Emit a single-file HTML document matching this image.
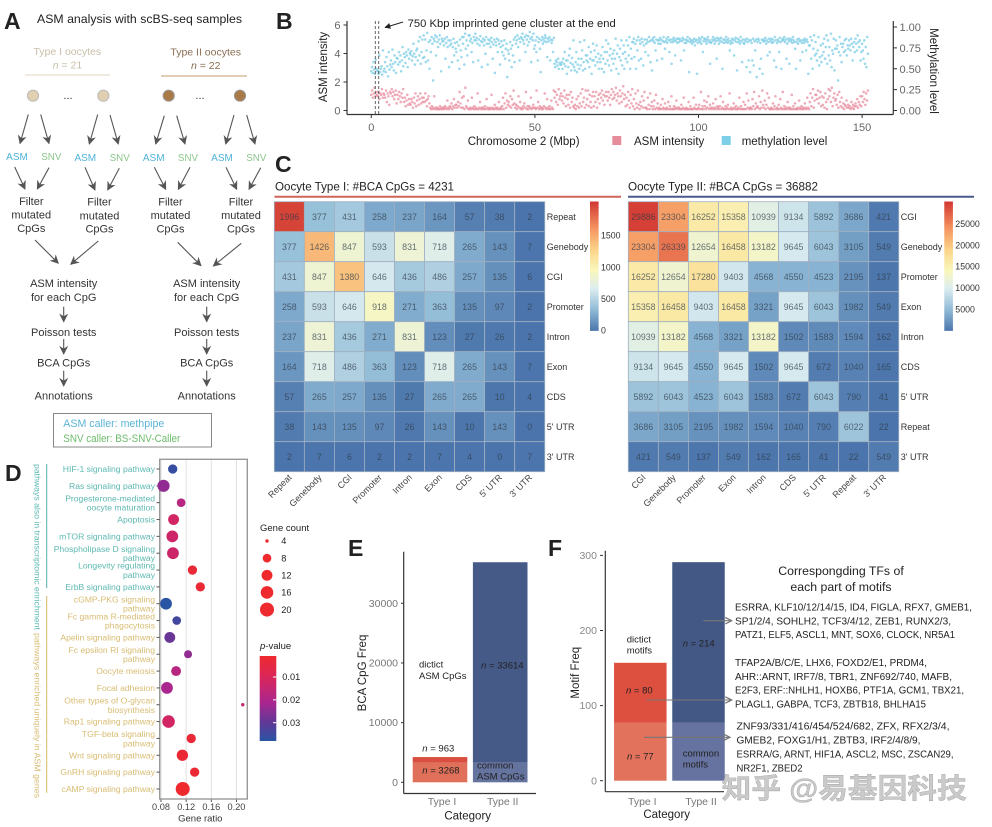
<!DOCTYPE html>
<html lang="en">
<head>
<meta charset="utf-8">
<title>ASM analysis figure</title>
<style>
html,body{margin:0;padding:0;background:#fff;width:992px;height:827px;overflow:hidden}
svg{display:block;filter:blur(0.3px)}
text{font-family:"Liberation Sans","Noto Sans CJK SC",sans-serif}
.letter{font-size:23px;font-weight:700;fill:#222}
.flow{font-size:11px;fill:#333;text-anchor:middle}
.blue{font-size:10px;fill:#4fb3d9;text-anchor:middle}
.green{font-size:9.8px;fill:#8cc68c;text-anchor:middle}
.tick{font-size:11px;fill:#666}
.title{font-size:11.5px;fill:#222}
.small{font-size:9.5px;fill:#222}
.tf{font-size:10px;fill:#222}
</style>
</head>
<body>
<svg id="figure" width="992" height="827" viewBox="0 0 992 827" xmlns="http://www.w3.org/2000/svg">
<defs>
<marker id="ah" viewBox="0 0 10 10" refX="9" refY="5" markerUnits="userSpaceOnUse" markerWidth="9" markerHeight="9" orient="auto"><path d="M0,0 L10,5 L0,10 L3,5z" fill="#555"/></marker>
<marker id="ahg" viewBox="0 0 10 10" refX="9" refY="5" markerUnits="userSpaceOnUse" markerWidth="8" markerHeight="8" orient="auto"><path d="M1,1 L9,5 L1,9" fill="none" stroke="#777" stroke-width="1.6"/></marker>
<marker id="ahb" viewBox="0 0 10 10" refX="9" refY="5" markerUnits="userSpaceOnUse" markerWidth="6" markerHeight="6" orient="auto"><path d="M0,0 L10,5 L0,10z" fill="#222"/></marker>
<linearGradient id="pgrad" x1="0" y1="0" x2="0" y2="1"><stop offset="0" stop-color="#ee2a2e"/><stop offset="0.25" stop-color="#d9265a"/><stop offset="0.55" stop-color="#a9268f"/><stop offset="0.8" stop-color="#5b3b98"/><stop offset="1" stop-color="#2a54a4"/></linearGradient>
</defs>

<g>
<text class="letter" x="4" y="29">A</text>
<text x="37" y="23" font-size="12.3" fill="#222">ASM analysis with scBS-seq samples</text>
<text x="67.3" y="55" font-size="10.5" fill="#c8bfa8" text-anchor="middle">Type I oocytes</text>
<text x="67.5" y="68.5" font-size="10.5" fill="#c8bfa8" text-anchor="middle"><tspan font-style="italic">n</tspan> = 21</text>
<line x1="25" y1="75" x2="110" y2="75" stroke="#e0d6c3"/>
<text x="205.7" y="55.5" font-size="10.5" fill="#8a6e52" text-anchor="middle">Type II oocytes</text>
<text x="205.7" y="69" font-size="10.5" fill="#8a6e52" text-anchor="middle"><tspan font-style="italic">n</tspan> = 22</text>
<line x1="161" y1="76" x2="247" y2="76" stroke="#c49a72"/>
<circle cx="33" cy="95.7" r="5.6" fill="#e0cfb0" stroke="#bbb"/>
<circle cx="103.3" cy="95.7" r="5.6" fill="#e0cfb0" stroke="#bbb"/>
<circle cx="168.7" cy="95.7" r="5.6" fill="#a97a48" stroke="#999"/>
<circle cx="240" cy="95.7" r="5.6" fill="#a97a48" stroke="#999"/>
<text x="68" y="99" font-size="11" fill="#333" text-anchor="middle">...</text>
<text x="200" y="99" font-size="11" fill="#333" text-anchor="middle">...</text>

<g stroke="#555" stroke-width="1.1">
<line x1="28.3" y1="114.5" x2="20" y2="143.5" marker-end="url(#ah)"/>
<line x1="40.7" y1="114.5" x2="49" y2="143.5" marker-end="url(#ah)"/>
<line x1="97.7" y1="114.5" x2="89.3" y2="144" marker-end="url(#ah)"/>
<line x1="110" y1="115" x2="118.3" y2="144" marker-end="url(#ah)"/>
<line x1="164.3" y1="115.7" x2="155.7" y2="144" marker-end="url(#ah)"/>
<line x1="176.7" y1="115.7" x2="185" y2="144" marker-end="url(#ah)"/>
<line x1="234" y1="115" x2="225.7" y2="144" marker-end="url(#ah)"/>
<line x1="246.7" y1="115" x2="255" y2="144" marker-end="url(#ah)"/>
<line x1="14.7" y1="167" x2="25" y2="189" marker-end="url(#ah)"/>
<line x1="49" y1="167.7" x2="37.3" y2="189" marker-end="url(#ah)"/>
<line x1="85" y1="167.3" x2="95" y2="190" marker-end="url(#ah)"/>
<line x1="119.3" y1="168.3" x2="107.7" y2="190" marker-end="url(#ah)"/>
<line x1="154.3" y1="167.3" x2="165.7" y2="189.3" marker-end="url(#ah)"/>
<line x1="190" y1="167.3" x2="178.3" y2="189.3" marker-end="url(#ah)"/>
<line x1="226" y1="167.3" x2="236.7" y2="189.3" marker-end="url(#ah)"/>
<line x1="260.7" y1="167.7" x2="249" y2="189.3" marker-end="url(#ah)"/>
<line x1="35" y1="240" x2="58.3" y2="263.3" marker-end="url(#ah)"/>
<line x1="98.3" y1="241" x2="70.7" y2="264.3" marker-end="url(#ah)"/>
<line x1="177.7" y1="242.3" x2="201" y2="265.7" marker-end="url(#ah)"/>
<line x1="241.3" y1="243.3" x2="213.3" y2="266" marker-end="url(#ah)"/>
<line x1="63.7" y1="306.7" x2="63.7" y2="321.7" marker-end="url(#ah)"/>
<line x1="63.7" y1="339" x2="63.7" y2="354" marker-end="url(#ah)"/>
<line x1="63.7" y1="370.7" x2="63.7" y2="386" marker-end="url(#ah)"/>
<line x1="206.7" y1="306.7" x2="206.7" y2="321.7" marker-end="url(#ah)"/>
<line x1="206.7" y1="339" x2="206.7" y2="354" marker-end="url(#ah)"/>
<line x1="206.7" y1="370.7" x2="206.7" y2="386" marker-end="url(#ah)"/>
</g>

<text class="blue" x="17" y="160">ASM</text>
<text class="green" x="51.3" y="160">SNV</text>
<text class="blue" x="85.3" y="161">ASM</text>
<text class="green" x="119.7" y="161">SNV</text>
<text class="blue" x="153.7" y="161">ASM</text>
<text class="green" x="188" y="161">SNV</text>
<text class="blue" x="222" y="161">ASM</text>
<text class="green" x="256.3" y="161">SNV</text>

<text class="flow" x="31.3"><tspan x="31.3" y="205">Filter</tspan><tspan x="31.3" y="218.5">mutated</tspan><tspan x="31.3" y="232">CpGs</tspan></text>
<text class="flow" x="99.5"><tspan x="99.5" y="205.5">Filter</tspan><tspan x="99.5" y="219.5">mutated</tspan><tspan x="99.5" y="232.5">CpGs</tspan></text>
<text class="flow" x="170.5"><tspan x="170.5" y="205.5">Filter</tspan><tspan x="170.5" y="219">mutated</tspan><tspan x="170.5" y="232.5">CpGs</tspan></text>
<text class="flow" x="241"><tspan x="241" y="205.5">Filter</tspan><tspan x="241" y="219">mutated</tspan><tspan x="241" y="232.5">CpGs</tspan></text>

<text class="flow"><tspan x="63.7" y="287">ASM intensity</tspan><tspan x="63.7" y="301">for each CpG</tspan></text>
<text class="flow" x="63.7" y="336">Poisson tests</text>
<text class="flow" x="63.7" y="366.5">BCA CpGs</text>
<text class="flow" x="63.7" y="399.5">Annotations</text>
<text class="flow"><tspan x="206.7" y="287">ASM intensity</tspan><tspan x="206.7" y="301">for each CpG</tspan></text>
<text class="flow" x="206.7" y="336">Poisson tests</text>
<text class="flow" x="206.7" y="366.5">BCA CpGs</text>
<text class="flow" x="206.7" y="399.5">Annotations</text>

<rect x="53.5" y="413.5" width="158" height="33.5" fill="#fff" stroke="#888"/>
<text x="63.3" y="427" font-size="10.6" fill="#5ab4d6" textLength="101" lengthAdjust="spacingAndGlyphs">ASM caller: methpipe</text>
<text x="63.3" y="442" font-size="10.6" fill="#6dbb6d" textLength="117" lengthAdjust="spacingAndGlyphs">SNV caller: BS-SNV-Caller</text>
</g>

<g id="panelB">
<text class="letter" x="276" y="29">B</text>
<g id="scatterMarks"></g>
<line x1="375.3" y1="21" x2="375.3" y2="114" stroke="#555" stroke-dasharray="3,2" stroke-width="0.9"/>
<line x1="378.7" y1="21" x2="378.7" y2="114" stroke="#555" stroke-dasharray="3,2" stroke-width="0.9"/>
<line x1="347" y1="21" x2="347" y2="114.5" stroke="#333" stroke-width="1.2"/>
<line x1="893.3" y1="21" x2="893.3" y2="114.5" stroke="#333" stroke-width="1.2"/>
<line x1="347" y1="114.5" x2="893.3" y2="114.5" stroke="#333" stroke-width="1.2"/>
<g id="scatterAxes"></g>
<text class="title" transform="translate(327,67) rotate(-90)" text-anchor="middle">ASM intensity</text>
<text class="title" transform="translate(930,71) rotate(90)" text-anchor="middle" font-size="11">Methylation level</text>
<text class="title" x="467.7" y="145">Chromosome 2 (Mbp)</text>
<rect x="612.3" y="136" width="9" height="9" fill="#e68c9b"/>
<text class="title" x="634" y="145">ASM intensity</text>
<rect x="721.7" y="136" width="9" height="9" fill="#7ccfe6"/>
<text class="title" x="741.7" y="145">methylation level</text>
<line x1="403" y1="22" x2="385" y2="27.5" stroke="#222" marker-end="url(#ahb)"/>
<text x="407.7" y="27" font-size="11" fill="#222" textLength="208" lengthAdjust="spacingAndGlyphs">750 Kbp imprinted gene cluster at the end</text>
</g>

<g>
<text class="letter" x="275" y="172">C</text>
<text class="title" x="275" y="190.5" textLength="179" lengthAdjust="spacingAndGlyphs">Oocyte Type I: #BCA CpGs = 4231</text>
<line x1="274.5" y1="196.7" x2="621" y2="196.7" stroke="#d0645a" stroke-width="2"/>
<text class="title" x="628" y="190.5" textLength="190" lengthAdjust="spacingAndGlyphs">Oocyte Type II: #BCA CpGs = 36882</text>
<line x1="628" y1="196.7" x2="974" y2="196.7" stroke="#4a5a8c" stroke-width="2"/>
<g id="heat1"></g>
<g id="heat2"></g>
</g>

<g>
<text class="letter" x="5" y="481">D</text>
<text transform="translate(34.5,464) rotate(90)" font-size="8.6" fill="#5cb8b0" textLength="166" lengthAdjust="spacingAndGlyphs">pathways also in transcriptomic enrichment</text>
<text transform="translate(34.5,633) rotate(90)" font-size="8.6" fill="#d8bc72" textLength="165" lengthAdjust="spacingAndGlyphs">pathways enriched uniquely in ASM genes</text>
<line x1="46.7" y1="464" x2="46.7" y2="588" stroke="#4fb0a8"/>
<line x1="46.7" y1="596" x2="46.7" y2="792.7" stroke="#d8b860"/>
<g id="dotplot"></g>
<text x="200.3" y="821.7" font-size="9.5" fill="#333" text-anchor="middle">Gene ratio</text>
<text x="260" y="531" font-size="9.5" fill="#222">Gene count</text>
<g id="sizeLegend"></g>
<text x="260" y="649" font-size="9.5" fill="#222"><tspan font-style="italic">p</tspan>-value</text>
<rect x="259.7" y="656" width="16.6" height="85" fill="url(#pgrad)"/>
<g id="pLegend"></g>
</g>

<g>
<text class="letter" x="348" y="556">E</text>
<g id="barsE"></g>
<line x1="403.7" y1="551.7" x2="403.7" y2="793.5" stroke="#333" stroke-width="1.2"/>
<line x1="403.7" y1="793.5" x2="536" y2="793.5" stroke="#333" stroke-width="1.2"/>
<text class="title" transform="translate(366,673) rotate(-90)" text-anchor="middle">BCA CpG Freq</text>
<text class="title" x="467.7" y="819.3" text-anchor="middle">Category</text>
<text class="small"><tspan x="419" y="667.3">dictict</tspan><tspan x="419" y="678.8">ASM CpGs</tspan></text>
<text class="small" x="422.3" y="751.7"><tspan font-style="italic">n</tspan> = 963</text>
<text class="small" x="422.3" y="773.3"><tspan font-style="italic">n</tspan> = 3268</text>
<text class="small" x="481" y="668.3"><tspan font-style="italic">n</tspan> = 33614</text>
<text class="small"><tspan x="477" y="768.3">common</tspan><tspan x="477" y="779.5">ASM CpGs</tspan></text>
</g>

<g>
<text class="letter" x="548" y="556">F</text>
<g id="barsF"></g>
<line x1="605.3" y1="550.7" x2="605.3" y2="791.7" stroke="#333" stroke-width="1.2"/>
<line x1="605.3" y1="791.7" x2="724" y2="791.7" stroke="#333" stroke-width="1.2"/>
<text class="title" transform="translate(579,672.7) rotate(-90)" text-anchor="middle">Motif Freq</text>
<text class="title" x="666.7" y="818" text-anchor="middle">Category</text>
<text class="small"><tspan x="626.7" y="642.7">dictict</tspan><tspan x="626.7" y="653.5">motifs</tspan></text>
<text class="small" x="626" y="693.3" font-size="10"><tspan font-style="italic">n</tspan> = 80</text>
<text class="small" x="627" y="759.3" font-size="10"><tspan font-style="italic">n</tspan> = 77</text>
<text class="small" x="682.7" y="646.7" font-size="10"><tspan font-style="italic">n</tspan> = 214</text>
<text class="small"><tspan x="682.7" y="756.7">common</tspan><tspan x="682.7" y="767.7">motifs</tspan></text>
<line x1="703.3" y1="620.7" x2="731.7" y2="620.7" stroke="#777" stroke-width="1.1" marker-end="url(#ahg)"/>
<line x1="646.7" y1="700" x2="731.7" y2="700" stroke="#777" stroke-width="1.1" marker-end="url(#ahg)"/>
<line x1="644" y1="737.3" x2="730" y2="737.3" stroke="#777" stroke-width="1.1" marker-end="url(#ahg)"/>
<text font-size="12.3" fill="#222" text-anchor="middle"><tspan x="841" y="575">Correspongding TFs of</tspan><tspan x="841" y="591">each part of motifs</tspan></text>
<text class="tf" x="735" y="610.7" textLength="237" lengthAdjust="spacingAndGlyphs">ESRRA, KLF10/12/14/15, ID4, FIGLA, RFX7, GMEB1,</text>
<text class="tf" x="735" y="624.3" textLength="216" lengthAdjust="spacingAndGlyphs">SP1/2/4, SOHLH2, TCF3/4/12, ZEB1, RUNX2/3,</text>
<text class="tf" x="735" y="638" textLength="220" lengthAdjust="spacingAndGlyphs">PATZ1, ELF5, ASCL1, MNT, SOX6, CLOCK, NR5A1</text>
<text class="tf" x="735" y="666" textLength="192" lengthAdjust="spacingAndGlyphs">TFAP2A/B/C/E, LHX6, FOXD2/E1, PRDM4,</text>
<text class="tf" x="735" y="680" textLength="217" lengthAdjust="spacingAndGlyphs">AHR::ARNT, IRF7/8, TBR1, ZNF692/740, MAFB,</text>
<text class="tf" x="735" y="693.7" textLength="229" lengthAdjust="spacingAndGlyphs">E2F3, ERF::NHLH1, HOXB6, PTF1A, GCM1, TBX21,</text>
<text class="tf" x="735" y="707.7" textLength="191" lengthAdjust="spacingAndGlyphs">PLAGL1, GABPA, TCF3, ZBTB18, BHLHA15</text>
<text class="tf" x="736.5" y="729.7" textLength="213" lengthAdjust="spacingAndGlyphs">ZNF93/331/416/454/524/682, ZFX, RFX2/3/4,</text>
<text class="tf" x="736.5" y="743.7" textLength="184" lengthAdjust="spacingAndGlyphs">GMEB2, FOXG1/H1, ZBTB3, IRF2/4/8/9,</text>
<text class="tf" x="736.5" y="757.7" textLength="217" lengthAdjust="spacingAndGlyphs">ESRRA/G, ARNT, HIF1A, ASCL2, MSC, ZSCAN29,</text>
<text class="tf" x="736.5" y="771.7" textLength="66" lengthAdjust="spacingAndGlyphs">NR2F1, ZBED2</text>
</g>

<text x="721.7" y="798" font-size="28" font-weight="700" fill="#bdbdbd" fill-opacity="0.8" stroke="#8f8f8f" stroke-width="0.3" textLength="245" lengthAdjust="spacingAndGlyphs" style='font-family:"Liberation Sans","Noto Sans CJK SC",sans-serif'>知乎 @易基因科技</text>
</svg>

<script>
/* ---------- Panel B data ---------- */
const chrPositions = [1,3,5,7,9,11,13,15,17,19,21,23,25,27,29,31,33,35,37,39,41,43,45,47,49,51,53,55,57,59,61,63,65,67,69,71,73,75,77,79,81,83,85,87,89,91,93,95,97,99,101,103,105,107,109,111,113,115,117,119,121,123,125,127,129,131,133,135,137,139,141,143,145,147,149,151];
const methylationPct = [
[47,52,45,58,49,44,61,50,47],[48,44,66,46,50,53,43,72,47],[50,58,46,64,53,41,70,49,55],[60,52,73,56,48,66,58,45,63],
[62,55,70,58,66,47,60,76,53],[68,64,57,70,66,52,73,62,69],[67,71,60,65,80,68,55,64,72],[74,60,83,66,88,56,70,85,63],
[90,64,85,58,72,93,60,82,50],[84,70,88,80,36,86,83,90,66],[88,82,76,85,90,80,47,86,83],[83,78,86,62,81,88,76,84,52],
[78,84,80,58,76,86,66,81,74],[70,82,60,78,50,85,72,64,88],[80,88,55,92,74,84,66,78,90],[90,83,86,70,81,58,88,84,92],
[84,87,80,60,85,78,89,83,52],[82,86,78,84,68,88,80,55,85],[80,84,76,87,82,62,79,85,45],[82,78,86,70,84,80,55,76,83],
[70,78,66,84,62,74,80,40,72],[68,60,82,74,52,78,66,85,58],[88,80,84,90,76,86,60,82,88],[86,92,84,80,88,70,90,85,78],
[89,82,94,86,58,88,84,92,74],[78,84,70,88,60,82,86,74,46],[84,88,80,86,83,90,87,82,64],[86,83,88,60,85,81,84,70,87],
[56,52,60,58,54,62,50,57,55],[55,58,50,62,56,70,53,60,44],[60,52,66,74,57,48,63,55,84],[52,48,58,70,46,55,62,50,82],
[54,62,72,48,58,84,50,66,60],[66,58,76,52,62,70,44,60,80],[60,72,54,64,78,58,68,50,62],[58,66,50,76,62,46,70,56,84],
[70,60,80,54,66,74,48,62,68],[56,72,62,86,50,68,78,44,64],[74,60,84,54,68,78,50,70,62],[84,58,78,66,88,50,74,62,82],
[82,86,64,80,50,84,72,88,60],[84,80,62,86,82,54,78,85,70],[80,85,82,66,88,83,58,84,48],[86,83,88,81,72,85,60,84,80],
[84,87,80,85,62,83,88,82,74],[83,86,81,88,84,70,85,82,56],[85,82,87,84,66,83,86,81,86],[82,86,84,60,83,87,85,72,81],
[85,81,84,88,83,46,86,82,84],[80,84,82,86,78,83,85,44,81],[84,87,82,85,80,88,70,83,86],[86,83,80,85,88,82,84,56,81],
[82,85,88,84,80,86,83,62,87],[84,80,86,83,87,82,50,85,81],[85,82,88,84,81,86,83,72,80],[83,86,81,85,66,84,87,82,48],
[86,82,84,80,88,83,58,85,81],[80,85,83,52,86,82,60,84,46],[84,81,60,86,54,83,72,85,40],[82,86,84,50,81,62,85,44,83],
[85,83,87,80,84,66,82,86,70],[83,86,81,85,82,60,88,84,52],[81,85,83,70,87,82,50,84,86],[84,88,82,85,62,80,86,83,56],
[86,83,85,81,88,84,82,74,50],[82,85,80,86,83,60,84,81,70],[84,81,86,83,72,85,82,44,78],[78,88,62,84,50,74,90,66,82],
[68,60,72,88,54,64,78,58,66],[80,70,86,62,76,90,56,84,66],[76,60,92,52,72,68,86,48,74],[84,74,78,36,70,88,66,80,58],
[76,80,70,84,72,86,66,78,74],[84,78,72,86,80,60,76,82,70],[86,80,72,90,82,76,84,60,70],[80,72,62,84,56,76,52,88,68]
];
const asmTenths = [
[11,14,9,12,16,10,13,11],[10,13,8,12,11,15,9,12],[11,9,14,6,12,10,4,13],[12,15,10,13,8,11,14,5],
[11,8,13,10,6,12,9,15],[6,9,3,7,11,4,8,5],[4,8,6,2,9,5,12,3],[7,10,4,8,12,5,9,6],
[9,6,12,7,3,8,10,5],[2,1,3,1,2,10,1,2],[1,2,1,1,3,1,2,1],[2,1,3,2,1,7,2,1],
[3,2,5,1,3,8,2,4],[4,2,6,3,13,5,2,9],[2,10,1,16,3,2,7,1],[1,2,1,9,2,1,3,1],
[2,1,12,1,2,6,1,2],[1,2,1,3,1,8,2,1],[1,2,1,11,2,1,1,4],[2,1,2,1,6,1,2,1],
[3,9,1,5,12,2,7,4],[6,3,10,2,8,4,14,5],[2,4,1,3,10,2,6,1],[2,1,3,5,2,13,1,3],
[1,3,2,9,1,2,4,2],[2,1,14,2,6,1,3,2],[1,2,1,3,12,2,1,8],[2,1,3,1,7,2,1,14],
[9,13,6,11,4,15,8,10],[12,7,10,5,14,9,3,11],[8,4,11,2,13,6,9,3],[2,4,1,8,3,10,2,5],
[12,3,15,6,9,2,14,4],[8,14,3,11,6,2,10,13],[3,10,6,13,2,8,11,5],[12,9,14,7,11,4,10,13],
[10,7,13,9,4,11,15,8],[13,9,11,16,7,12,10,5],[14,10,6,12,17,8,11,3],[9,4,13,7,2,11,5,15],
[3,8,1,12,5,2,14,4],[1,6,3,10,2,7,13,2],[2,1,9,4,1,12,3,6],[1,3,7,1,11,2,5,1],
[2,1,4,1,8,2,1,5],[1,2,1,6,1,3,1,10],[1,1,3,1,2,7,1,2],[2,1,1,4,1,2,9,1],
[1,2,1,1,6,1,3,1],[1,1,9,2,1,4,1,1],[2,4,1,13,1,3,1,7],[3,1,6,2,10,1,4,2],
[1,2,5,1,2,8,1,3],[2,1,3,10,1,2,6,1],[1,3,1,2,4,1,12,1],[2,1,1,5,2,1,3,1],
[1,2,9,1,3,1,1,6],[1,4,1,12,2,7,1,2],[2,1,8,3,13,1,5,2],[3,2,10,1,6,2,14,4],
[2,7,1,4,12,2,9,1],[1,2,1,5,1,3,10,1],[2,1,4,1,8,2,1,13],[1,3,1,2,1,6,2,1],
[2,1,11,1,3,1,5,1],[1,2,1,7,2,1,3,1],[2,1,5,2,1,9,2,1],[6,12,3,9,15,2,7,11],
[11,8,14,5,9,13,3,10],[4,9,2,12,6,1,8,15],[10,14,6,16,3,9,12,7],[8,4,11,2,13,6,3,9],
[2,5,1,4,3,7,2,4],[2,3,1,6,2,4,1,3],[5,3,8,2,6,4,10,3],[10,6,13,8,4,12,7,14]
];
const chrTicks = [0,50,100,150];
const asmTicks = [0,2,4,6];
const methTicks = [0,0.25,0.5,0.75,1];

/* ---------- Panel C data ---------- */
const heat1Rows = ['Repeat','Genebody','CGI','Promoter','Intron','Exon','CDS',"5' UTR","3' UTR"];
const heat1Values = [
[1996,377,431,258,237,164,57,38,2],
[377,1426,847,593,831,718,265,143,7],
[431,847,1380,646,436,486,257,135,6],
[258,593,646,918,271,363,135,97,2],
[237,831,436,271,831,123,27,26,2],
[164,718,486,363,123,718,265,143,7],
[57,265,257,135,27,265,265,10,4],
[38,143,135,97,26,143,10,143,0],
[2,7,6,2,2,7,4,0,7]
];
const heat1Max = 2035;
const heat1Ticks = [0,500,1000,1500];
const heat2Rows = ['CGI','Genebody','Promoter','Exon','Intron','CDS',"5' UTR",'Repeat',"3' UTR"];
const heat2Values = [
[29886,23304,16252,15358,10939,9134,5892,3686,421],
[23304,26339,12654,16458,13182,9645,6043,3105,549],
[16252,12654,17280,9403,4568,4550,4523,2195,137],
[15358,16458,9403,16458,3321,9645,6043,1982,549],
[10939,13182,4568,3321,13182,1502,1583,1594,162],
[9134,9645,4550,9645,1502,9645,672,1040,165],
[5892,6043,4523,6043,1583,672,6043,790,41],
[3686,3105,2195,1982,1594,1040,790,6022,22],
[421,549,137,549,162,165,41,22,549]
];
const heat2Max = 30200;
const heat2Ticks = [5000,10000,15000,20000,25000];

/* ---------- Panel D data ---------- */
const pathwayLabels = ['HIF-1 signaling pathway','Ras signaling pathway','Progesterone-mediated|oocyte maturation','Apoptosis','mTOR signaling pathway','Phospholipase D signaling|pathway','Longevity regulating|pathway','ErbB signaling pathway','cGMP-PKG signaling|pathway','Fc gamma R-mediated|phagocytosis','Apelin signaling pathway','Fc epsilon RI signaling|pathway','Oocyte meiosis','Focal adhesion','Other types of O-glycan|biosynthesis','Rap1 signaling pathway','TGF-beta signaling|pathway','Wnt signaling pathway','GnRH signaling pathway','cAMP signaling pathway'];
const geneRatios = [0.0986,0.084,0.112,0.100,0.098,0.099,0.130,0.1425,0.088,0.105,0.094,0.123,0.104,0.0895,0.21,0.092,0.128,0.114,0.1335,0.1145];
const geneCounts = [9,15,8,12,14,14,9,9,14,8,12,7,10,14,4,16,9,13,9,20];
const pValues = [0.036,0.024,0.018,0.012,0.013,0.013,0.003,0.002,0.038,0.034,0.029,0.024,0.018,0.021,0.015,0.012,0.003,0.002,0.002,0.001];
const sharedPathwayCount = 8;
const ratioTicks = [0.08,0.12,0.16,0.20];
const ratioTickLabels = ['0.08','0.12','0.16','0.20'];
const sizeLegendCounts = [4,8,12,16,20];
const pLegendTicks = [0.01,0.02,0.03];

/* ---------- Panels E and F data ---------- */
const barCategories = ['Type I','Type II'];
const bcaCommon = [3268,3268];
const bcaDistinct = [963,33614];
const bcaTicks = [0,10000,20000,30000];
const motifCommon = [77,77];
const motifDistinct = [80,214];
const motifTicks = [0,100,200,300];

/* ---------- helpers ---------- */
const NS = 'http://www.w3.org/2000/svg';
function make(parent, tag, attrs, text) {
  const el = document.createElementNS(NS, tag);
  for (const k in attrs) el.setAttribute(k, attrs[k]);
  if (text !== undefined) el.textContent = text;
  parent.appendChild(el);
  return el;
}
function mix(a, b, t) {
  const pa = [1,3,5].map(i => parseInt(a.substr(i,2),16));
  const pb = [1,3,5].map(i => parseInt(b.substr(i,2),16));
  return 'rgb(' + pa.map((v,i) => Math.round(v + (pb[i]-v)*t)).join(',') + ')';
}
function ramp(stops, t) {
  t = Math.max(0, Math.min(1, t));
  for (let i = 1; i < stops.length; i++) {
    if (t <= stops[i][0]) return mix(stops[i-1][1], stops[i][1], (t - stops[i-1][0]) / (stops[i][0] - stops[i-1][0]));
  }
  return stops[stops.length-1][1];
}

/* ---------- Panel B drawing ---------- */
const xChr = v => 371.3 + v * 3.272;
const yAsm = v => 110.5 - v * 14.25;
const yMeth = v => 110.5 - v * 83.5;
const scatterMarks = document.getElementById('scatterMarks');
const scatterAxes = document.getElementById('scatterAxes');
chrPositions.forEach((pos, k) => {
  asmTenths[k].forEach((val, j) => {
    const dot = make(scatterMarks, 'circle', {cx: xChr(pos - 1 + j * 2 / asmTenths[k].length), cy: yAsm(val / 10), r: 1.3, fill: '#e88fa0', 'fill-opacity': 0.75});
    
    
  });
  methylationPct[k].forEach((val, j) => {
    const dot = make(scatterMarks, 'circle', {cx: xChr(pos - 1 + j * 2 / methylationPct[k].length), cy: yMeth(val / 100), r: 1.3, fill: '#7fcde6', 'fill-opacity': 0.75});
    
    
  });
});
chrTicks.forEach(t => {
  const tk = make(scatterAxes, 'line', {x1: xChr(t), y1: 114.5, x2: xChr(t), y2: 118, stroke: '#333'});
  
  
  const lb = make(scatterAxes, 'text', {x: xChr(t), y: 131, class: 'tick', 'text-anchor': 'middle'}, String(t));
  
  
});
asmTicks.forEach(t => {
  const tk = make(scatterAxes, 'line', {x1: 343.5, y1: yAsm(t), x2: 347, y2: yAsm(t), stroke: '#333'});
  
  
  const lb = make(scatterAxes, 'text', {x: 340.5, y: yAsm(t) + 4, class: 'tick', 'text-anchor': 'end'}, String(t));
  
  
});
methTicks.forEach(t => {
  const tk = make(scatterAxes, 'line', {x1: 893.3, y1: yMeth(t), x2: 897, y2: yMeth(t), stroke: '#333'});
  
  
  const lb = make(scatterAxes, 'text', {x: 899.5, y: yMeth(t) + 4, class: 'tick'}, t.toFixed(2));
  
  
});

/* ---------- Panel C drawing ---------- */
const heatStops = [[0,'#4a74ab'],[0.167,'#8fbad6'],[0.333,'#dcedf0'],[0.47,'#faf7bd'],[0.62,'#fbd88c'],[0.8,'#f59460'],[1,'#d33a33']];
function drawHeatmap(root, rows, cols, values, maxVal, ticks, left, barX) {
  const top = 201.7, cw = 30.05, ch = 30;
  const xCell = c => left + c * cw;
  const yCell = r => top + r * ch;
  values.forEach((row, r) => {
    row.forEach((val, c) => {
      const cell = make(root, 'rect', {x: xCell(c), y: yCell(r), width: cw, height: ch, fill: ramp(heatStops, val / maxVal), stroke: '#9fb0c2', 'stroke-width': 0.8});
      
      
      const label = make(root, 'text', {x: xCell(c) + cw / 2, y: yCell(r) + ch / 2 + 3.2, 'font-size': 8.8, fill: '#2f3b4a', 'fill-opacity': 0.72, 'text-anchor': 'middle'}, String(val));
      
      
    });
  });
  rows.forEach((name, r) => {
    const lb = make(root, 'text', {x: left + 9 * cw + 2, y: yCell(r) + ch / 2 + 3.2, 'font-size': 9, fill: '#333'}, name);
    
    
  });
  cols.forEach((name, c) => {
    const cx = xCell(c) + cw / 2 + 3, cy = 478;
    const lb = make(root, 'text', {x: 0, y: 0, transform: 'translate(' + cx + ',' + cy + ') rotate(-45)', 'font-size': 9, fill: '#444', 'text-anchor': 'end'}, name);
    
    
  });
  const barTop = 201.5, barH = 129;
  const yBar = v => barTop + barH - (v / maxVal) * barH;
  for (let i = 0; i < 64; i++) {
    const seg = make(root, 'rect', {x: barX, y: barTop + i * barH / 64, width: 8.6, height: barH / 64 + 0.4, fill: ramp(heatStops, 1 - i / 64)});
    
    
  }
  ticks.forEach(t => {
    const lb = make(root, 'text', {x: barX + 11, y: yBar(t) + 3.2, 'font-size': 8.8, fill: '#333'}, String(t));
    
    
  });
}
drawHeatmap(document.getElementById('heat1'), heat1Rows, heat1Rows, heat1Values, heat1Max, heat1Ticks, 274.3, 590);
drawHeatmap(document.getElementById('heat2'), heat2Rows, heat2Rows, heat2Values, heat2Max, heat2Ticks, 628.3, 944.3);

/* ---------- Panel D drawing ---------- */
const dot = document.getElementById('dotplot');
const xRatio = v => 161 + (v - 0.08) * 629;
const yPath = i => 469 + i * 16.84;
const rCount = c => 1.7 + 5.3 * Math.sqrt((c - 4) / 16);
const pStops = [[0,'#ee2a2e'],[0.25,'#d9265a'],[0.55,'#a9268f'],[0.8,'#5b3b98'],[1,'#2a54a4']];
const pColor = p => ramp(pStops, (p - 0.0008) / 0.0372);
ratioTicks.forEach((t, i) => {
  const g = make(dot, 'line', {x1: xRatio(t), y1: 460, x2: xRatio(t), y2: 799, stroke: '#e2e2e2'});
  
  
  const tk = make(dot, 'line', {x1: xRatio(t), y1: 799, x2: xRatio(t), y2: 802, stroke: '#555'});
  
  
  const lb = make(dot, 'text', {x: xRatio(t), y: 810, 'font-size': 9.2, fill: '#444', 'text-anchor': 'middle'}, ratioTickLabels[i]);
  
  
});
const dotFrame = make(dot, 'rect', {x: 159.7, y: 459.3, width: 87.6, height: 339.7, fill: 'none', stroke: '#999', 'stroke-width': 1.4});


pathwayLabels.forEach((label, i) => {
  const y = yPath(i);
  const color = i < sharedPathwayCount ? '#5cb8b0' : '#d8bc72';
  const tk = make(dot, 'line', {x1: 156.5, y1: y, x2: 159.7, y2: y, stroke: '#555'});
  
  
  const parts = label.split('|');
  parts.forEach((part, p) => {
    const by = parts.length === 1 ? y + 3 : (p === 0 ? y - 1.3 : y + 8);
    const lb = make(dot, 'text', {x: 155, y: by, 'font-size': 8.6, fill: color, 'text-anchor': 'end'}, part);
    
    
  });
  const c = make(dot, 'circle', {cx: xRatio(geneRatios[i]), cy: y, r: rCount(geneCounts[i]), fill: pColor(pValues[i])});
  
  
});
const sizeLegend = document.getElementById('sizeLegend');
sizeLegendCounts.forEach((n, i) => {
  const y = 541 + i * 17.15;
  const c = make(sizeLegend, 'circle', {cx: 267, cy: y, r: rCount(n), fill: '#ee2a2e'});
  
  
  const lb = make(sizeLegend, 'text', {x: 281.3, y: y + 3.2, 'font-size': 9.2, fill: '#222'}, String(n));
  
  
});
const pLegend = document.getElementById('pLegend');
const yP = p => 677 + (p - 0.01) * 2285;
pLegendTicks.forEach(p => {
  const tk = make(pLegend, 'line', {x1: 273, y1: yP(p), x2: 276.3, y2: yP(p), stroke: '#fff'});
  
  
  const lb = make(pLegend, 'text', {x: 282.3, y: yP(p) + 3.2, 'font-size': 9.2, fill: '#222'}, p.toFixed(2));
  
  
});

/* ---------- Panels E and F drawing ---------- */
function drawBars(root, common, distinct, ticks, yScale, centers, width, colors, tickX, tickFill, catY) {
  common.forEach((val, i) => {
    const left = centers[i] - width / 2;
    const top = val + distinct[i];
    const barDistinct = make(root, 'rect', {x: left, y: yScale(top), width: width, height: yScale(val) - yScale(top), fill: colors[i][1]});
    
    
    const barCommon = make(root, 'rect', {x: left, y: yScale(val), width: width, height: yScale(0) - yScale(val), fill: colors[i][0]});
    
    
    const lb = make(root, 'text', {x: centers[i] + (i === 0 ? 2 : 2.5), y: catY, 'font-size': 10.5, fill: '#777', 'text-anchor': 'middle'}, barCategories[i]);
    
    
  });
  ticks.forEach(t => {
    const tk = make(root, 'line', {x1: tickX + 3, y1: yScale(t), x2: tickX + 6, y2: yScale(t), stroke: '#333'});
    
    
    const lb = make(root, 'text', {x: tickX, y: yScale(t) + 3.6, 'font-size': 10.5, fill: tickFill, 'text-anchor': 'end'}, String(t));
    
    
  });
}
const yBca = v => 782.3 - v * 0.005967;
const yMotif = v => 780.7 - v * 0.751;
drawBars(document.getElementById('barsE'), bcaCommon, bcaDistinct, bcaTicks, yBca, [440, 500.2], 54.6, [['#e0705a','#d94f3f'],['#65739f','#465a88']], 398, '#777', 805);
drawBars(document.getElementById('barsF'), motifCommon, motifDistinct, motifTicks, yMotif, [640.3, 698.5], 52.5, [['#e3725c','#dd4f3f'],['#66729f','#445885']], 597, '#888', 805);
</script>
</body>
</html>
